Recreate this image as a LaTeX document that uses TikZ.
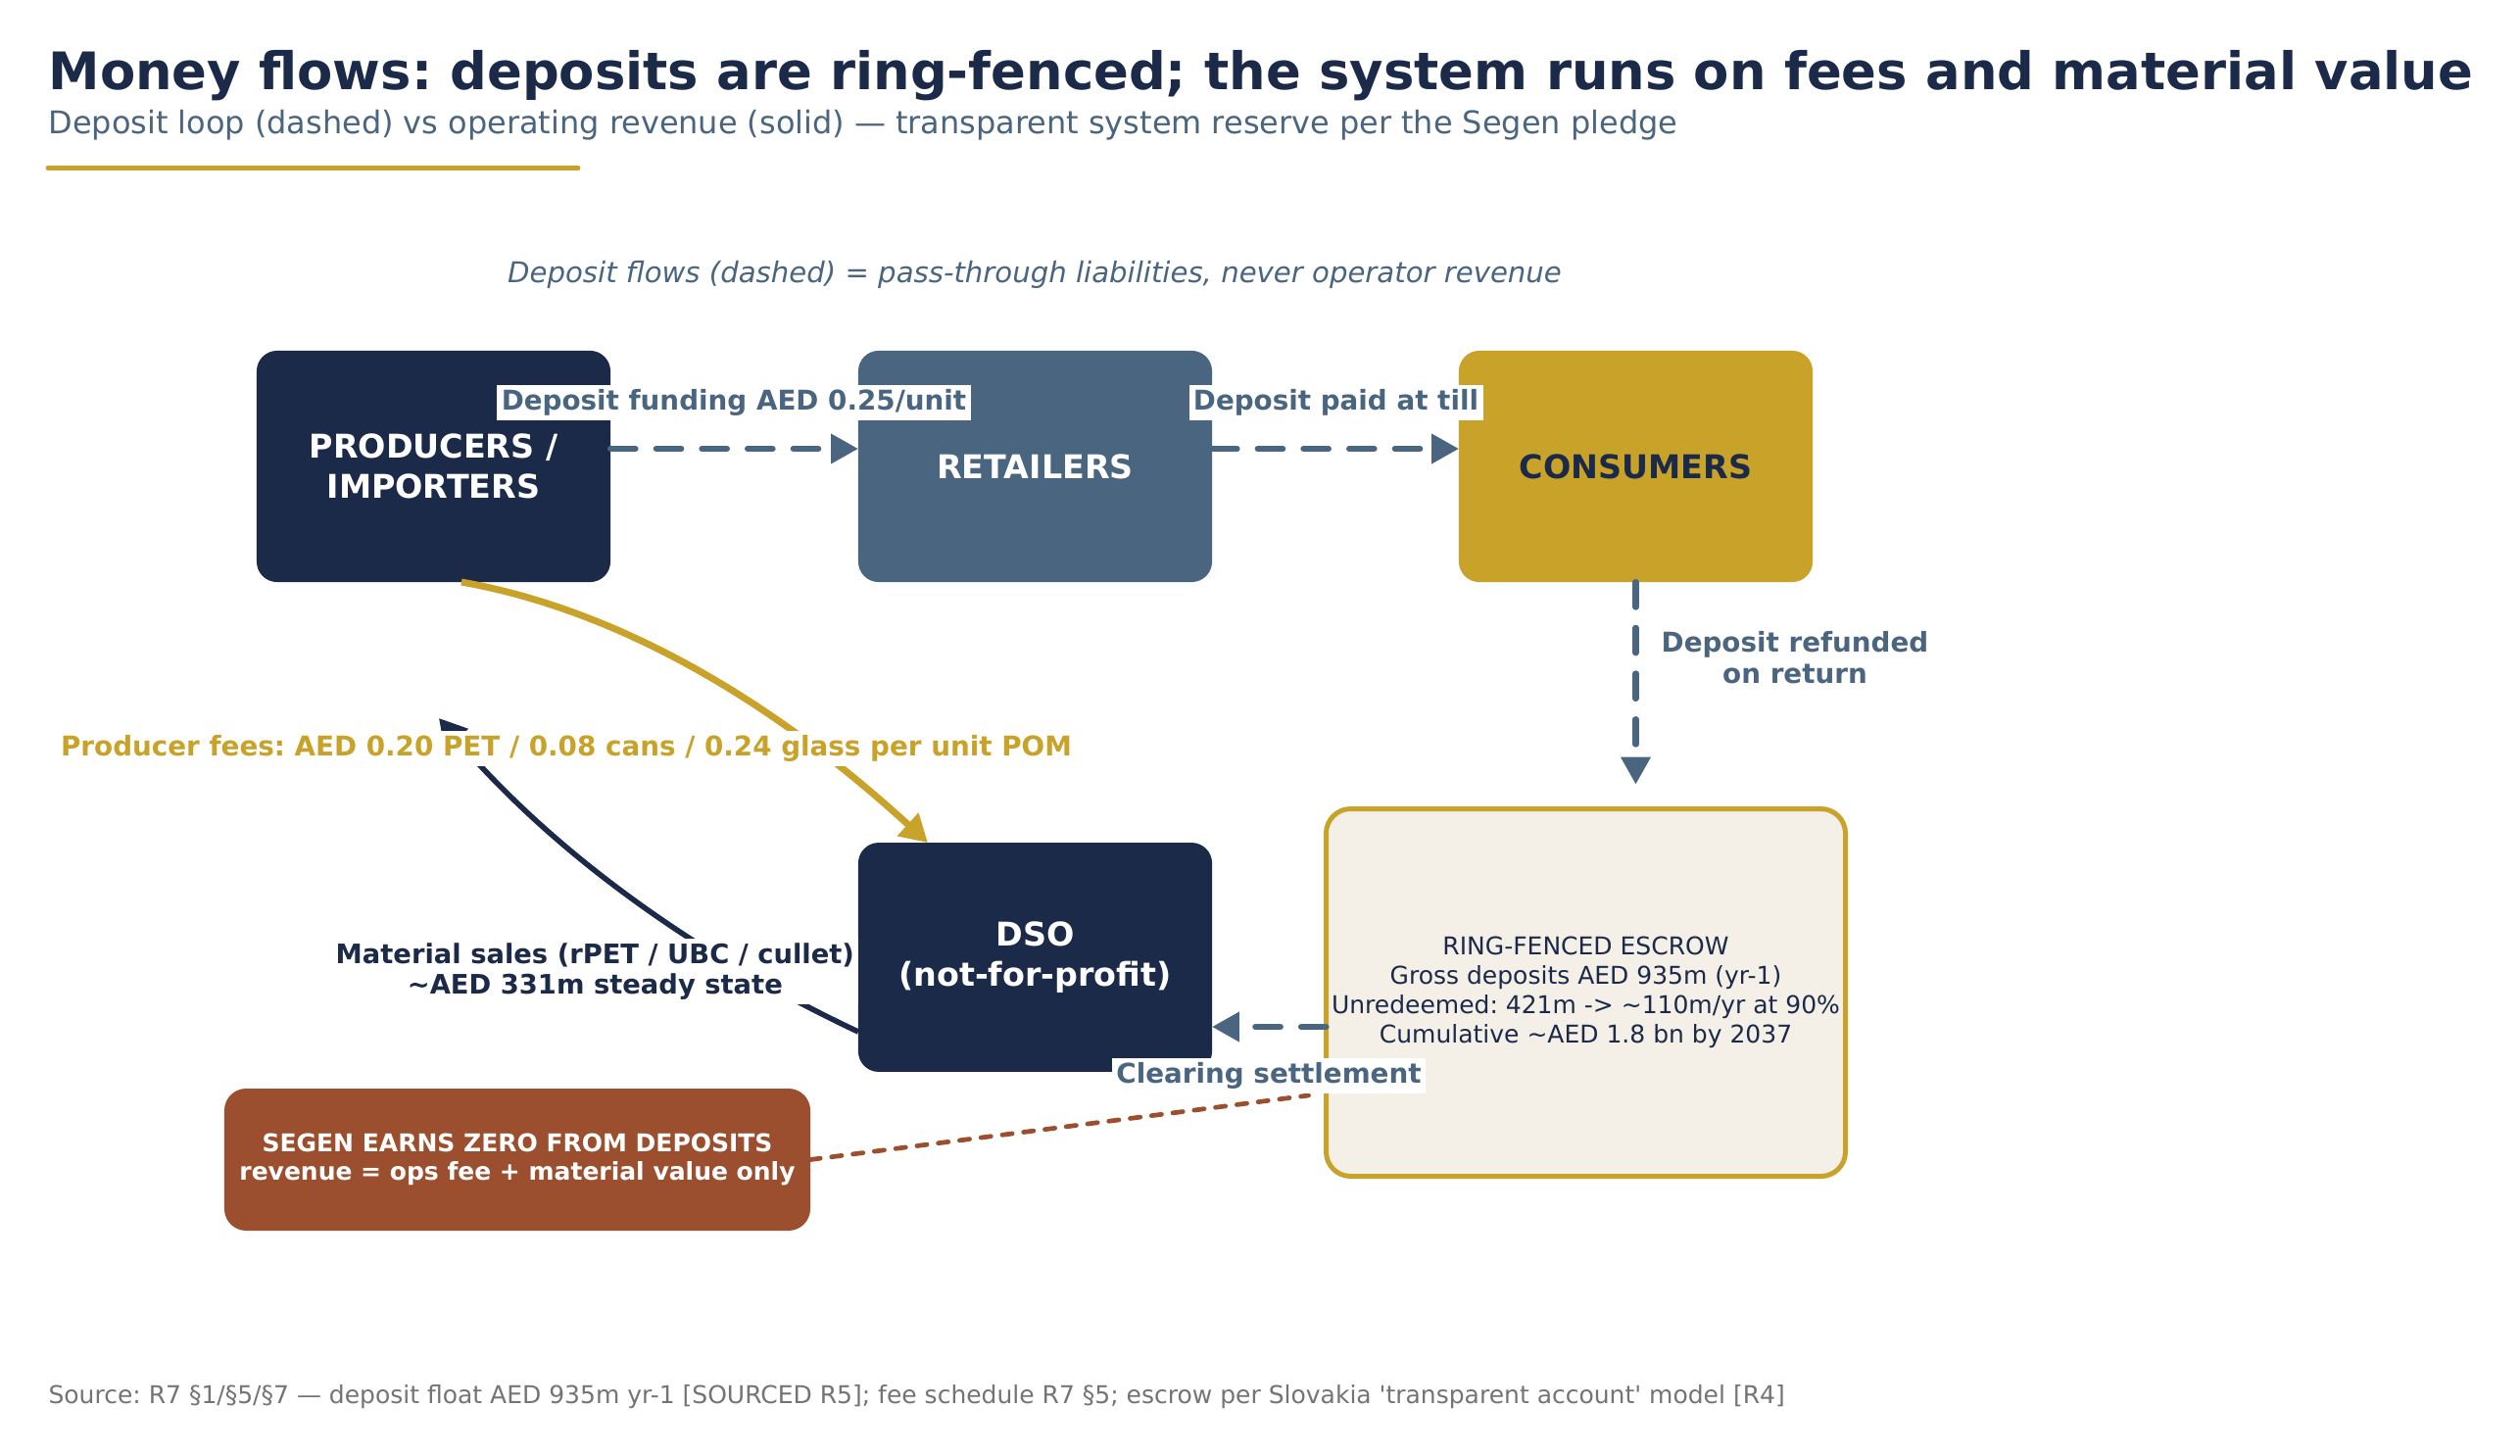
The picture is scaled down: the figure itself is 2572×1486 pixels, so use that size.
\documentclass[tikz,border=0pt]{standalone}
\usepackage{fontspec}
\setmainfont{DejaVu Sans}
\usetikzlibrary{arrows.meta,calc}
\definecolor{navy}{HTML}{1C2A4A}
\definecolor{slate}{HTML}{4A6580}
\definecolor{gold}{HTML}{C9A22A}
\definecolor{rust}{HTML}{9C4F2E}
\definecolor{cream}{HTML}{F4F0E8}
\definecolor{footgray}{HTML}{747474}
\frenchspacing
\begin{document}
\begin{tikzpicture}[x=0.36pt,y=-0.36pt,
  box/.style={rounded corners=7.5pt, inner sep=0pt, outer sep=0pt, minimum width=130pt, minimum height=85pt, align=center, font=\fontsize{12}{15}\selectfont\bfseries},
  dep/.style={draw=slate, line width=2.2pt, dash pattern=on 9.2pt off 7.6pt, line cap=round, -{Triangle[length=10pt,width=10.5pt]}},
  lab/.style={fill=white, inner sep=1.6pt, font=\fontsize{10}{11.5}\selectfont\bfseries, align=center},
  solidarrow/.style={line width=#1, -{Triangle[length=10pt,width=11pt]}},
]
\useasboundingbox (0,0) rectangle (2572,1486);
\fill[white] (0,0) rectangle (2572,1486);

% titles
\node[anchor=base west, inner sep=0pt, text=navy, font=\fontsize{19}{23}\selectfont\bfseries] (title) at (49,92) {Money flows: deposits are ring-fenced; the system runs on fees and material value};
\node[anchor=base west, inner sep=0pt, text=slate, font=\fontsize{11.5}{13.5}\selectfont] (subtitle) at (49,137) {Deposit loop (dashed) vs operating revenue (solid) — transparent system reserve per the Segen pledge};
\draw[gold, line width=1.8pt, line cap=round] (49,171.5) -- (590,171.5);
\node[inner sep=0pt, text=slate, font=\fontsize{10.5}{12.5}\selectfont\itshape] (note) at (1056,280) {Deposit flows (dashed) = pass-through liabilities, never operator revenue};

% boxes
\node[box, fill=navy, text=white] (prod) at (442.5,476) {PRODUCERS /\\IMPORTERS};
\node[box, fill=slate, text=white] (ret) at (1056.5,476) {RETAILERS};
\node[box, fill=gold, text=navy] (cons) at (1669.5,476) {CONSUMERS};
\node[box, fill=navy, text=white, minimum height=84.2pt] (dso) at (1056.5,977) {DSO\\(not-for-profit)};
\node[rounded corners=9pt, inner sep=0pt, outer sep=0pt, draw=gold, line width=1.8pt, fill=cream, minimum width=190.8pt, minimum height=135pt, align=center, text=navy, font=\fontsize{9}{10.8}\selectfont] (escrow) at (1618.5,1013) {RING-FENCED ESCROW\\Gross deposits AED 935m (yr-1)\\Unredeemed: 421m -> \textasciitilde110m/yr at 90\%\\Cumulative \textasciitilde AED 1.8 bn by 2037};
\node[rounded corners=8pt, inner sep=0pt, outer sep=0pt, fill=rust, text=white, minimum width=215.3pt, minimum height=52.2pt, align=center, font=\fontsize{9}{10.2}\selectfont\bfseries] (segen) at (528,1183.5) {SEGEN EARNS ZERO FROM DEPOSITS\\revenue = ops fee + material value only};

% deposit flows (dashed)
\draw[dep] ($(prod.east)+(0,-18)$) -- ($(ret.west)+(0,-18)$);
\draw[dep] ($(ret.east)+(0,-18)$) -- ($(cons.west)+(0,-18)$);
\draw[dep] (cons.south) -- ($(escrow.north -| cons.south)+(0,-25)$);
\draw[dep] ($(escrow.west)+(0,35)$) -- ($(dso.east)+(0,71)$);

% segen note line
\coordinate (segenend) at ($(escrow.west)+(-18,105)$);
\draw[rust, line width=1.7pt, dash pattern=on 3.7pt off 4.2pt, line cap=round] (segen.east) -- (segenend);

% solid revenue flows
\coordinate (matend) at ($(prod.south)+(5.5,139)$);
\draw[navy, solidarrow=2pt] ($(dso.west)+(0,76)$) .. controls (704,972) and (561,866) .. (matend);
\draw[gold, solidarrow=2.5pt] ($(prod.south)+(28.5,0)$) .. controls (624,621) and (782,709) .. (dso.north -| 947,0);

% labels
\node[lab, text=slate] (l1) at (749,411) {Deposit funding AED 0.25/unit};
\node[lab, text=slate] (l2) at (1363.5,411) {Deposit paid at till};
\node[lab, text=slate, fill=none] (l3) at (1832,671) {Deposit refunded\\on return};
\node[lab, text=gold] (l4) at (578,764) {Producer fees: AED 0.20 PET / 0.08 cans / 0.24 glass per unit POM};
\node[lab, text=navy, anchor=east, font=\fontsize{9.85}{11.3}\selectfont\bfseries] (l5) at (877,991.5) {Material sales (rPET / UBC / cullet)\\\textasciitilde AED 331m steady state};
\node[lab, text=slate] (l6) at (1295,1098) {Clearing settlement};

% footer
\node[anchor=base west, inner sep=0pt, text=footgray, font=\fontsize{9}{11}\selectfont] (foot) at (49,1432) {Source: R7 §1/§5/§7 — deposit float AED 935m yr-1 [SOURCED R5]; fee schedule R7 §5; escrow per Slovakia \textquotesingle transparent account\textquotesingle\ model [R4]};
\end{tikzpicture}
\end{document}
